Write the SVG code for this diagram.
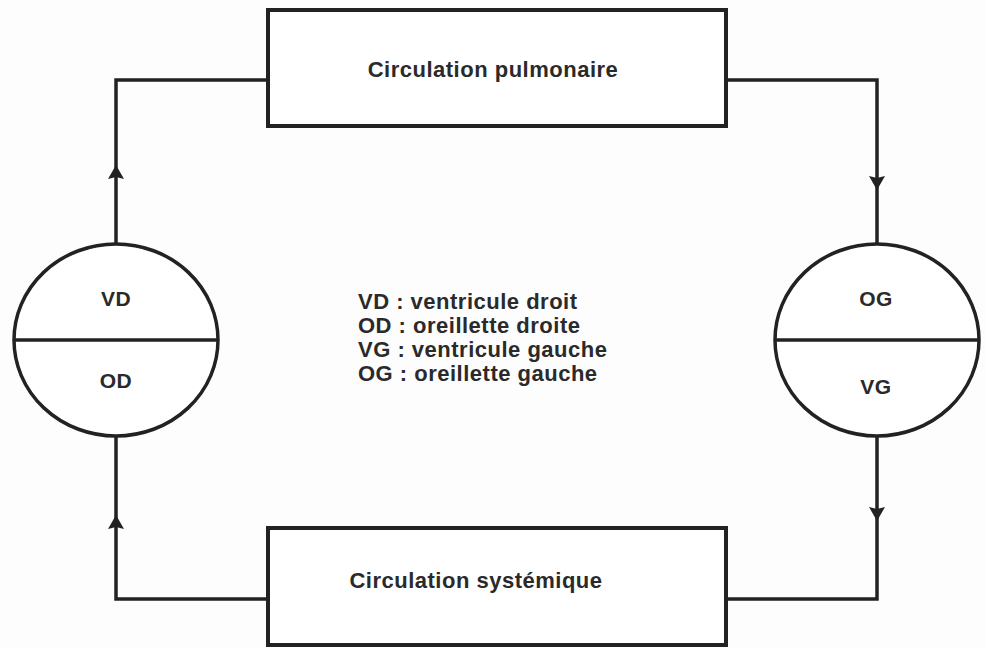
<svg xmlns="http://www.w3.org/2000/svg" width="986" height="647" viewBox="0 0 986 647">
<style>
.box{fill:#fff;stroke:#222;stroke-width:4}
.heart{fill:#fff;stroke:#222;stroke-width:3.5}
.wire{fill:none;stroke:#222;stroke-width:3.5;stroke-linejoin:miter}
.ah{fill:#222}
text{font-family:"Liberation Sans",Arial,sans-serif;font-weight:bold;fill:#2a2a2a}
.t{font-size:22px;letter-spacing:0.5px}
.lbl{font-size:21px;letter-spacing:0.5px;text-anchor:middle}
</style>
<defs>
<path id="ahUp" d="M0,0 L-8,14 L0,12 L8,14 Z"/>
</defs>
<rect width="986" height="647" fill="#fdfdfd"/>
<g id="connectors">
<path class="wire" d="M268,80 H116 V244"/>
<path class="wire" d="M726,80 H877 V244"/>
<path class="wire" d="M116,436 V599 H268"/>
<path class="wire" d="M877,436 V599 H726"/>
<use href="#ahUp" class="ah" x="116" y="165"/>
<use href="#ahUp" class="ah" x="116" y="515"/>
<use href="#ahUp" class="ah" transform="translate(877,190) rotate(180)"/>
<use href="#ahUp" class="ah" transform="translate(877,521) rotate(180)"/>
</g>
<g id="pulmonaire">
<rect class="box" x="268" y="10" width="458" height="116"/>
<text class="t" x="493" y="77" text-anchor="middle">Circulation pulmonaire</text>
</g>
<g id="systemique">
<rect class="box" x="268" y="528" width="458" height="117"/>
<text class="t" x="476" y="588" text-anchor="middle">Circulation systémique</text>
</g>
<g id="coeur-droit">
<ellipse class="heart" cx="116" cy="340" rx="102" ry="96"/>
<line class="wire" x1="14" y1="340" x2="218" y2="340"/>
<text class="lbl" x="116" y="306">VD</text>
<text class="lbl" x="116" y="388">OD</text>
</g>
<g id="coeur-gauche">
<ellipse class="heart" cx="877" cy="340" rx="102" ry="96"/>
<line class="wire" x1="775" y1="340" x2="979" y2="340"/>
<text class="lbl" x="876" y="306">OG</text>
<text class="lbl" x="876" y="394">VG</text>
</g>
<g id="legende">
<text class="t" x="358" y="309">VD : ventricule droit</text>
<text class="t" x="358" y="333">OD : oreillette droite</text>
<text class="t" x="358" y="357">VG : ventricule gauche</text>
<text class="t" x="358" y="381">OG : oreillette gauche</text>
</g>
</svg>
